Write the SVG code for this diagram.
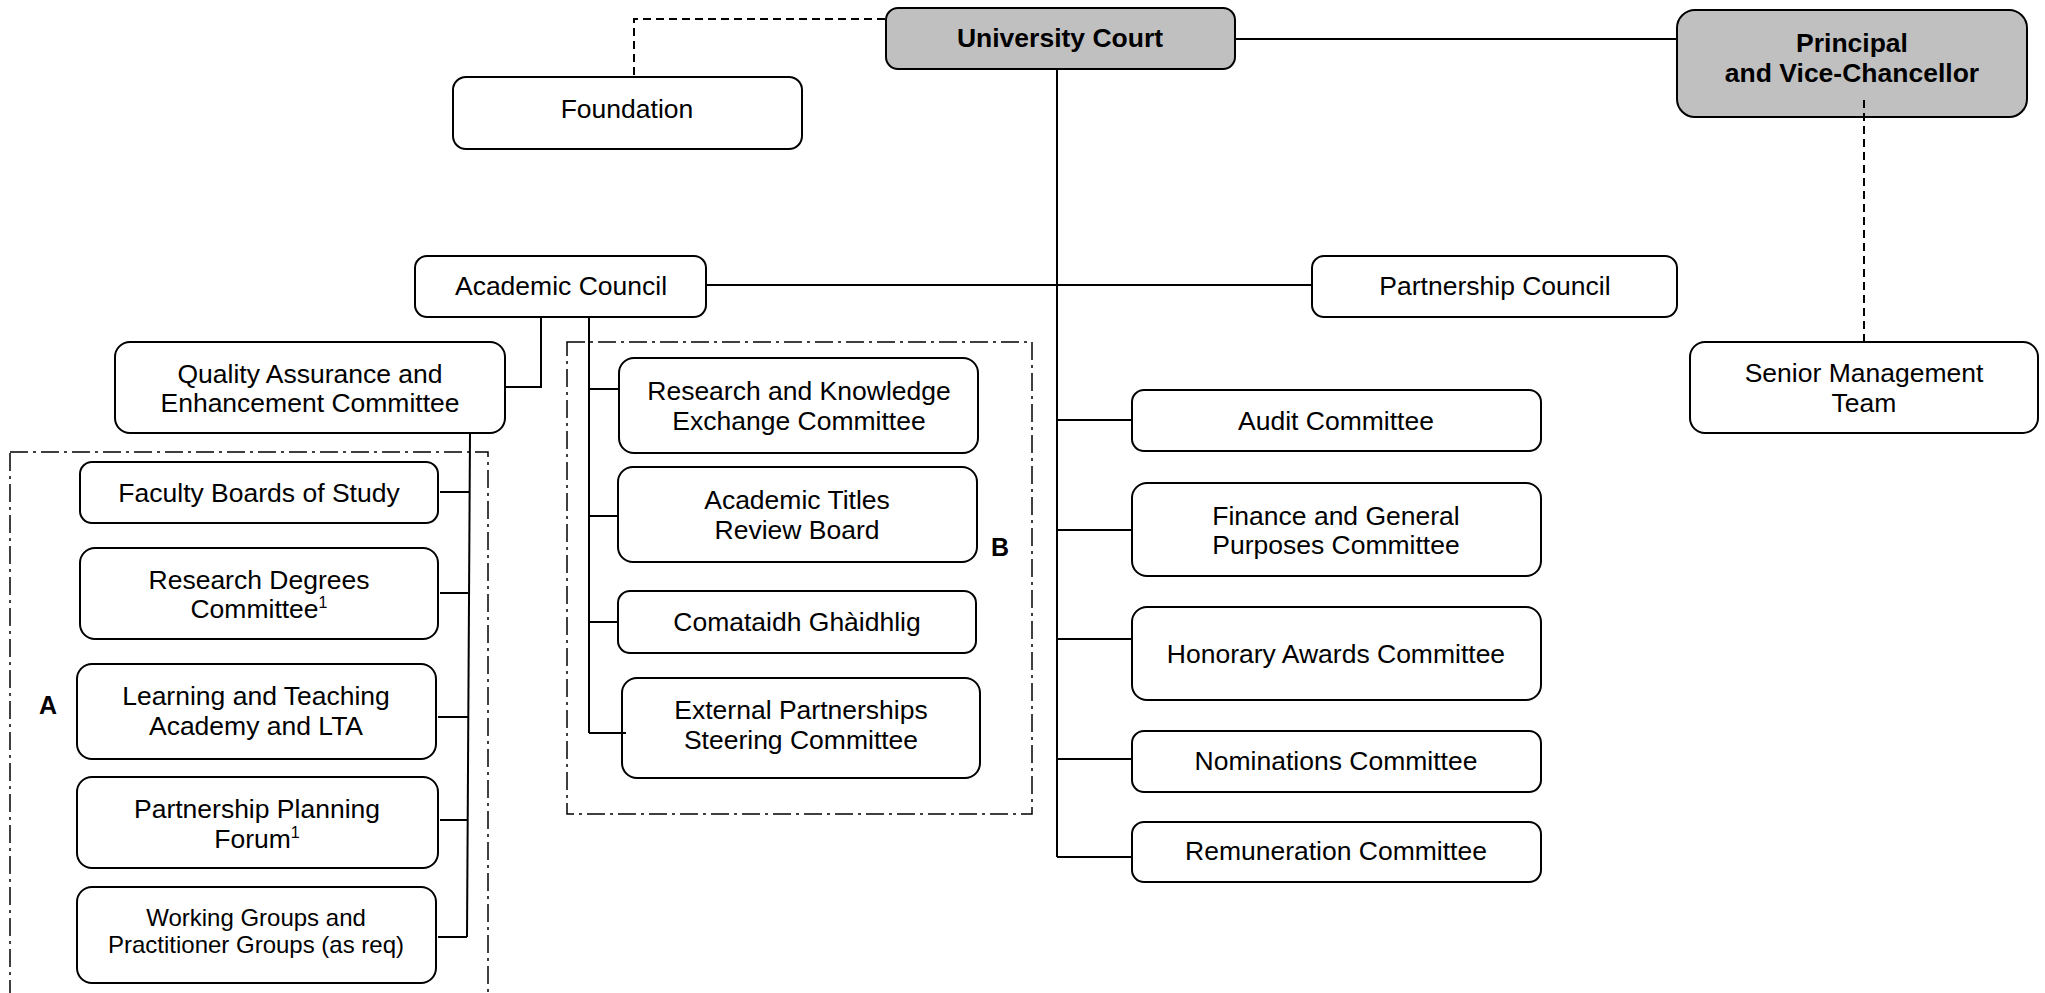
<svg xmlns="http://www.w3.org/2000/svg" width="2045" height="993" viewBox="0 0 2045 993">
<style>
.box{fill:#ffffff;stroke:#000;stroke-width:2}
.gray{fill:#c0c0c0;stroke:#000;stroke-width:2}
.t{font-family:"Liberation Sans",Arial,sans-serif;font-size:26.5px;fill:#000;text-anchor:middle}
.tb{font-family:"Liberation Sans",Arial,sans-serif;font-size:26.5px;font-weight:bold;fill:#000;text-anchor:middle}
.ts{font-family:"Liberation Sans",Arial,sans-serif;font-size:24px;fill:#000;text-anchor:middle}
.lbl{font-family:"Liberation Sans",Arial,sans-serif;font-size:25px;font-weight:bold;fill:#000;text-anchor:middle}
.sup{font-size:16px}
.ln{fill:none;stroke:#000;stroke-width:2}
.dash{fill:none;stroke:#000;stroke-width:2;stroke-dasharray:8 5}
.grp{fill:none;stroke:#000;stroke-width:1.5;stroke-dasharray:18 5 3 5}
</style>
<g id="groups">
<rect class="grp" x="567" y="342" width="465" height="472"/>
<rect class="grp" x="10" y="452" width="478" height="570"/>
<text class="lbl" x="1000" y="556">B</text>
<text class="lbl" x="48" y="714">A</text>
</g>
<g id="university-court">
<rect class="gray" x="886" y="8" width="349" height="61" rx="12"/>
<text class="tb" x="1060" y="47">University Court</text>
</g>
<g id="principal">
<rect class="gray" x="1677" y="10" width="350" height="107" rx="18"/>
<text class="tb" x="1852" y="52">Principal</text>
<text class="tb" x="1852" y="82">and Vice-Chancellor</text>
</g>
<g id="foundation">
<rect class="box" x="453" y="77" width="349" height="72" rx="13"/>
<text class="t" x="627" y="118">Foundation</text>
</g>
<g id="academic-council">
<rect class="box" x="415" y="256" width="291" height="61" rx="12"/>
<text class="t" x="561" y="295">Academic Council</text>
</g>
<g id="partnership-council">
<rect class="box" x="1312" y="256" width="365" height="61" rx="12"/>
<text class="t" x="1495" y="295">Partnership Council</text>
</g>
<g id="senior-management">
<rect class="box" x="1690" y="342" width="348" height="91" rx="15"/>
<text class="t" x="1864" y="382">Senior Management</text>
<text class="t" x="1864" y="412">Team</text>
</g>
<g id="qae">
<rect class="box" x="115" y="342" width="390" height="91" rx="15"/>
<text class="t" x="310" y="383">Quality Assurance and</text>
<text class="t" x="310" y="412">Enhancement Committee</text>
</g>
<g id="faculty-boards">
<rect class="box" x="80" y="462" width="358" height="61" rx="12"/>
<text class="t" x="259" y="502">Faculty Boards of Study</text>
</g>
<g id="research-degrees">
<rect class="box" x="80" y="548" width="358" height="91" rx="15"/>
<text class="t" x="259" y="589">Research Degrees</text>
<text class="t" x="259" y="618">Committee<tspan class="sup" dy="-10">1</tspan></text>
</g>
<g id="learning-teaching">
<rect class="box" x="77" y="664" width="359" height="95" rx="15"/>
<text class="t" x="256" y="705">Learning and Teaching</text>
<text class="t" x="256" y="735">Academy and LTA</text>
</g>
<g id="partnership-planning">
<rect class="box" x="77" y="777" width="361" height="91" rx="15"/>
<text class="t" x="257" y="818">Partnership Planning</text>
<text class="t" x="257" y="848">Forum<tspan class="sup" dy="-10">1</tspan></text>
</g>
<g id="working-groups">
<rect class="box" x="77" y="887" width="359" height="96" rx="15"/>
<text class="ts" x="256" y="926">Working Groups and</text>
<text class="ts" x="256" y="953">Practitioner Groups (as req)</text>
</g>
<g id="research-knowledge">
<rect class="box" x="619" y="358" width="359" height="95" rx="15"/>
<text class="t" x="799" y="400">Research and Knowledge</text>
<text class="t" x="799" y="430">Exchange Committee</text>
</g>
<g id="academic-titles">
<rect class="box" x="618" y="467" width="359" height="95" rx="15"/>
<text class="t" x="797" y="509">Academic Titles</text>
<text class="t" x="797" y="539">Review Board</text>
</g>
<g id="comataidh">
<rect class="box" x="618" y="591" width="358" height="62" rx="12"/>
<text class="t" x="797" y="631">Comataidh Ghàidhlig</text>
</g>
<g id="external-partnerships">
<rect class="box" x="622" y="678" width="358" height="100" rx="15"/>
<text class="t" x="801" y="719">External Partnerships</text>
<text class="t" x="801" y="749">Steering Committee</text>
</g>
<g id="audit">
<rect class="box" x="1132" y="390" width="409" height="61" rx="12"/>
<text class="t" x="1336" y="430">Audit Committee</text>
</g>
<g id="finance">
<rect class="box" x="1132" y="483" width="409" height="93" rx="15"/>
<text class="t" x="1336" y="525">Finance and General</text>
<text class="t" x="1336" y="554">Purposes Committee</text>
</g>
<g id="honorary">
<rect class="box" x="1132" y="607" width="409" height="93" rx="15"/>
<text class="t" x="1336" y="663">Honorary Awards Committee</text>
</g>
<g id="nominations">
<rect class="box" x="1132" y="731" width="409" height="61" rx="12"/>
<text class="t" x="1336" y="770">Nominations Committee</text>
</g>
<g id="remuneration">
<rect class="box" x="1132" y="822" width="409" height="60" rx="12"/>
<text class="t" x="1336" y="860">Remuneration Committee</text>
</g>
<g id="connectors">
<path class="dash" d="M885,19 H634 V77"/>
<path class="ln" d="M1235,39 H1677"/>
<path class="dash" d="M1864,100 V342"/>
<path class="ln" d="M1057,69 V857"/>
<path class="ln" d="M1057,420 H1132 M1057,530 H1132 M1057,639 H1132 M1057,759 H1132 M1057,857 H1132"/>
<path class="ln" d="M706,285 H1312"/>
<path class="ln" d="M541,317 V387 H505"/>
<path class="ln" d="M589,317 V733"/>
<path class="ln" d="M589,389 H619 M589,516 H618 M589,622 H618 M589,733 H626"/>
<path class="ln" d="M470,433 L467,937"/>
<path class="ln" d="M440,492 H470 M440,593 H469 M438,717 H469 M440,820 H468 M438,937 H467"/>
</g>
</svg>
